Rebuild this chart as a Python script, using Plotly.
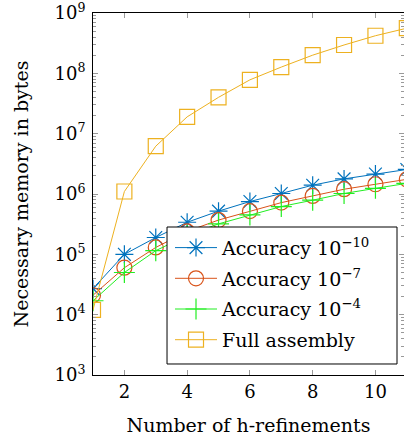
import plotly.graph_objects as go

x = list(range(1, 12))
acc10 = [2.7e4, 1.0e5, 1.9e5, 3.4e5, 5.2e5, 7.5e5, 1.02e6, 1.4e6, 1.78e6, 2.14e6, 2.55e6]
acc7 = [2.1e4, 6.0e4, 1.3e5, 2.4e5, 3.7e5, 5.2e5, 7.2e5, 9.3e5, 1.2e6, 1.45e6, 1.75e6]
acc4 = [1.7e4, 5.0e4, 1.15e5, 2.05e5, 3.2e5, 4.5e5, 6.2e5, 7.9e5, 1.02e6, 1.24e6, 1.5e6]
full = [1.2e4, 1.1e6, 6.2e6, 1.9e7, 4.0e7, 7.8e7, 1.27e8, 2.0e8, 2.95e8, 4.2e8, 5.6e8]

names = ["Accuracy 10<sup>\u221210</sup>", "Accuracy 10<sup>\u22127</sup>",
         "Accuracy 10<sup>\u22124</sup>", "Full assembly"]
colors = ["#0072BD", "#D95319", "#22EE22", "#EDB120"]
symbols = ["asterisk-open", "circle-open", "cross-thin-open", "square-open"]
series = [acc10, acc7, acc4, full]

ytickvals = [10**k for k in range(3, 10)]
yticktext = ["10<sup>%d</sup>" % k for k in range(3, 10)]
yminor = [m * 10**k for k in range(3, 9) for m in range(2, 10)]
xtickvals = [2, 4, 6, 8, 10]

FONT = "DejaVu Serif"

fig = go.Figure()
for i, (ys, nm, c, s) in enumerate(zip(series, names, colors, symbols)):
    fig.add_trace(go.Scatter(
        x=x, y=ys, name=nm, mode="lines+markers",
        line=dict(color=c, width=1),
        marker=dict(symbol=s, size=15, color=c, line=dict(color=c, width=1.2)),
        legendgroup="g%d" % i,
    ))

# legend frame (white box with black border) drawn above the data
fig.add_shape(type="rect", xref="paper", yref="paper",
              x0=0.238, x1=0.9775, y0=0.0304, y1=0.4088,
              fillcolor="white", line=dict(color="black", width=1), layer="above")

fig.update_layout(
    width=404, height=440,
    margin=dict(l=93, r=0, t=13, b=65),
    plot_bgcolor="white", paper_bgcolor="white",
    font=dict(family=FONT, size=18, color="black"),
    showlegend=True,
    legend=dict(
        x=0.2476, y=0.404, xanchor="left", yanchor="top",
        borderwidth=0, bgcolor="rgba(0,0,0,0)",
        font=dict(family=FONT, size=19),
        tracegroupgap=3, traceorder="grouped", itemwidth=42,
    ),
    xaxis=dict(
        range=[1, 10.91], tickvals=xtickvals, ticktext=[str(v) for v in xtickvals],
        ticks="inside", ticklen=5, tickcolor="#999999",
        showline=True, linecolor="black", linewidth=1, mirror="allticks",
        showgrid=False, zeroline=False,
        title=dict(text="Number of h-refinements", font=dict(size=19), standoff=18),
        tickfont=dict(size=18),
    ),
    yaxis=dict(
        type="log", range=[3, 9], tickvals=ytickvals, ticktext=yticktext,
        ticks="inside", ticklen=5, tickcolor="#999999",
        minor=dict(tickvals=yminor, ticks="inside", ticklen=3, tickcolor="#999999"),
        showline=True, linecolor="black", linewidth=1, mirror="allticks",
        showgrid=False, zeroline=False, ticklabeloverflow="allow",
        ticklabelstandoff=3,
        title=dict(text="Necessary memory in bytes", font=dict(size=19), standoff=20),
        tickfont=dict(size=18),
    ),
)

fig.write_html("out.html")
